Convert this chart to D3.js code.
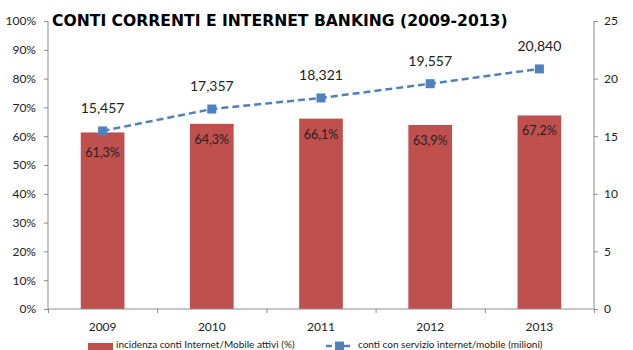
<!DOCTYPE html>
<html>
<head>
<meta charset="utf-8">
<script src="https://cdn.jsdelivr.net/npm/d3@7"></script>
<style>
  html, body { margin: 0; padding: 0; background: #ffffff; }
  svg { display: block; }
</style>
</head>
<body>
<svg id="chart" width="633" height="350"></svg>
<script>
// Categories and series
const years = ["2009", "2010", "2011", "2012", "2013"];
const quotaAttivi = [61.3, 64.3, 66.1, 63.9, 67.2];          // % bars, left axis
const contiInternet = [15.457, 17.357, 18.321, 19.557, 20.840]; // millions, right axis
const leftTicks = [0, 10, 20, 30, 40, 50, 60, 70, 80, 90, 100];
const rightTicks = [0, 5, 10, 15, 20, 25];
const titleText = "CONTI CORRENTI E INTERNET BANKING (2009-2013)";
const legendBar = "incidenza conti Internet/Mobile attivi (%)";
const legendLine = "conti con servizio internet/mobile (milioni)";

const svg = d3.select("#chart");
const plot = { left: 48, right: 594, top: 21, bottom: 309 };
const axisColor = "#8c8c8c";
const textColor = "#222";
const font = "Lato, 'Open Sans', sans-serif";

const x = d3.scaleBand().domain(years).range([plot.left, plot.right]).paddingInner(0.6).paddingOuter(0.3);
const xEdges = d3.scaleLinear().domain([0, years.length]).range([plot.left, plot.right]);
const yL = d3.scaleLinear().domain([0, 100]).range([plot.bottom, plot.top]);
const yR = d3.scaleLinear().domain([0, 25]).range([plot.bottom, plot.top]);

// Bars
svg.append("g").selectAll("rect").data(quotaAttivi).join("rect")
  .attr("x", (d, i) => x(years[i]))
  .attr("y", d => yL(d))
  .attr("width", x.bandwidth())
  .attr("height", d => yL(0) - yL(d))
  .attr("fill", "#c0504d");

// Bar value labels
svg.append("g").selectAll("text").data(quotaAttivi).join("text")
  .attr("x", (d, i) => x(years[i]) + x.bandwidth() / 2)
  .attr("y", (d, i) => yL(d) + (i === 0 ? 25 : 20))
  .attr("text-anchor", "middle")
  .attr("font-family", font).attr("font-size", 12.5)
  .attr("fill", textColor)
  .text(d => d.toFixed(1).replace(".", ",") + "%");

// Left axis
const gL = svg.append("g").attr("transform", `translate(${plot.left},0)`)
  .call(d3.axisLeft(yL).tickValues(leftTicks).tickSize(4).tickPadding(8).tickFormat(d => d + "%"));
// Right axis
const gR = svg.append("g").attr("transform", `translate(${plot.right},0)`)
  .call(d3.axisRight(yR).tickValues(rightTicks).tickSize(4).tickPadding(6).tickFormat(d3.format("d")));
// Bottom axis: ticks at band boundaries
const gB = svg.append("g").attr("transform", `translate(0,${plot.bottom})`)
  .call(d3.axisBottom(xEdges).tickValues(d3.range(years.length + 1)).tickSize(4).tickFormat(""));
gB.append("g").selectAll("text").data(years).join("text")
  .attr("x", d => x(d) + x.bandwidth() / 2)
  .attr("y", 22)
  .attr("text-anchor", "middle")
  .attr("font-family", font).attr("font-size", 12)
  .attr("fill", textColor)
  .text(d => d);

[gL, gR, gB].forEach(g => {
  g.selectAll(".domain").attr("stroke", axisColor);
  g.selectAll(".tick line").attr("stroke", axisColor);
  g.selectAll(".tick text").attr("font-family", font).attr("font-size", 12).attr("fill", textColor);
});
gL.select(".domain").attr("d", `M0,${plot.bottom}V${plot.top}`);
gR.select(".domain").attr("d", `M0,${plot.bottom}V${plot.top}`);
gB.select(".domain").attr("d", `M${plot.left},0H${plot.right}`);

// Line series
const cx = i => x(years[i]) + x.bandwidth() / 2;
const line = d3.line().x((d, i) => cx(i)).y(d => yR(d));
svg.append("path").datum(contiInternet)
  .attr("d", line)
  .attr("fill", "none")
  .attr("stroke", "#4f81bd")
  .attr("stroke-width", 2.5)
  .attr("stroke-dasharray", "7,4");
svg.append("g").selectAll("rect").data(contiInternet).join("rect")
  .attr("x", (d, i) => cx(i) - 4.5)
  .attr("y", d => yR(d) - 4.5)
  .attr("width", 9).attr("height", 9)
  .attr("fill", "#4f81bd");
svg.append("g").selectAll("text").data(contiInternet).join("text")
  .attr("x", (d, i) => cx(i))
  .attr("y", d => yR(d) - 18)
  .attr("text-anchor", "middle")
  .attr("font-family", font).attr("font-size", 14)
  .attr("fill", textColor)
  .text(d => d3.format(",.3f")(d).replace(".", ","));

// Title
svg.append("text")
  .attr("x", 52).attr("y", 26)
  .attr("font-family", "'DejaVu Sans', Verdana, sans-serif")
  .attr("font-weight", "bold")
  .attr("font-size", 15.6)
  .attr("fill", "#000")
  .text(titleText);

// Legend
const lg = svg.append("g");
lg.append("rect").attr("x", 88).attr("y", 343).attr("width", 25).attr("height", 9).attr("fill", "#c0504d");
lg.append("text").attr("x", 116).attr("y", 348)
  .attr("font-family", font).attr("font-size", 10).attr("fill", textColor).text(legendBar);
lg.append("line").attr("x1", 326).attr("x2", 352).attr("y1", 346).attr("y2", 346)
  .attr("stroke", "#4f81bd").attr("stroke-width", 2.5).attr("stroke-dasharray", "6,3");
lg.append("rect").attr("x", 335).attr("y", 341.5).attr("width", 9).attr("height", 9).attr("fill", "#4f81bd");
lg.append("text").attr("x", 358).attr("y", 348)
  .attr("font-family", font).attr("font-size", 10).attr("fill", textColor).text(legendLine);
</script>
</body>
</html>
